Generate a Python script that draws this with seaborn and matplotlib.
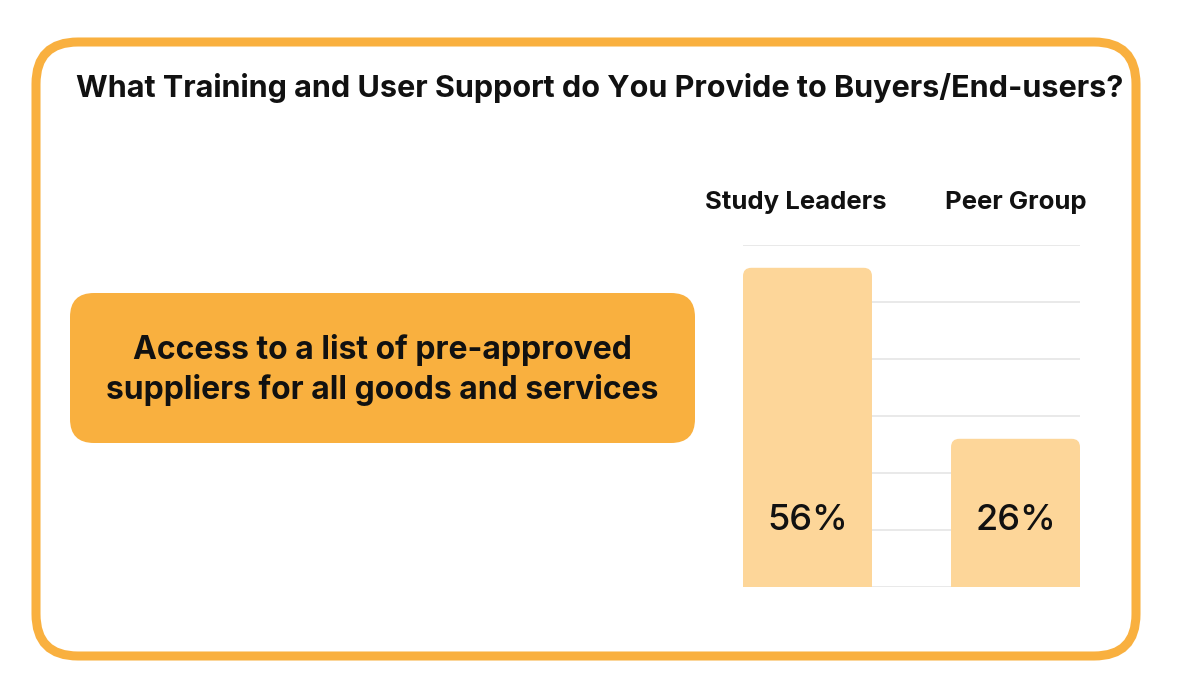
import matplotlib
matplotlib.use("Agg")
import matplotlib.pyplot as plt
from matplotlib.patches import FancyBboxPatch
import seaborn as sns
import pandas as pd

title = "What Training and User Support do You Provide to Buyers/End-users?"
item = "Access to a list of pre-approved\nsuppliers for all goods and services"
groups = ["Study Leaders", "Peer Group"]
values = [56, 26]
y_ticks = [0, 10, 20, 30, 40, 50, 60]

ORANGE = "#F9B03F"
BAR = "#FDD699"
GRID = "#E3E3E3"

sns.set_theme(style="white")
plt.rcParams["font.family"] = ["Inter", "DejaVu Sans"]

fig = plt.figure(figsize=(12, 7), dpi=100)

# background overlay in pixel coordinates
bg = fig.add_axes([0, 0, 1, 1], zorder=0)
bg.set_xlim(0, 1200)
bg.set_ylim(700, 0)
bg.axis("off")
bg.add_patch(FancyBboxPatch((36, 42), 1100, 614, boxstyle="round,pad=0,rounding_size=42",
                            fc="white", ec=ORANGE, lw=6.5))
bg.add_patch(FancyBboxPatch((70, 293), 625, 150, boxstyle="round,pad=0,rounding_size=24",
                            fc=ORANGE, ec="none"))
bg.text(600, 88, title, ha="center", va="center", fontsize=22, fontweight="bold", color="#111111")
bg.text(382, 370, item, ha="center", va="center", fontsize=23, fontweight="bold",
        color="#111111", linespacing=1.28)

# bar chart
df = pd.DataFrame({"group": groups, "value": values})
ax = fig.add_axes([743 / 1200, 1 - 587 / 700, 337 / 1200, 342 / 700], zorder=1)
ax.patch.set_alpha(0)
sns.barplot(data=df, x="group", y="value", color=BAR, width=0.62, saturation=1, ax=ax)
ax.set_ylim(0, 60)
ax.set_xlim(-0.31, 1.31)
for t in y_ticks:
    ax.axhline(t, color=GRID, lw=1.1, zorder=0)

# round the top corners of bars
for p in list(ax.patches):
    x0, w, h = p.get_x(), p.get_width(), p.get_height()
    p.set_visible(False)
    r = FancyBboxPatch((x0, 0), w, h, boxstyle="round,pad=0,rounding_size=0.04",
                       mutation_aspect=60 / 342 * 208, fc=BAR, ec="none", zorder=2)
    ax.add_patch(r)
    ax.add_patch(plt.Rectangle((x0, 0), w, h * 0.5, fc=BAR, ec="none", zorder=2))

label_dx = [-0.055, 0.0]
for i, (g, v) in enumerate(zip(groups, values)):
    ax.text(i, 11.6, f"{v}%", ha="center", va="center", fontsize=26, fontweight="medium",
            color="#111111", zorder=3)
    ax.text(i + label_dx[i], 67.4, g, ha="center", va="center", fontsize=18.5, fontweight="bold",
            color="#111111", clip_on=False)

ax.set_xlabel("")
ax.set_ylabel("")
ax.set_xticks([])
ax.set_yticks([])
for s in ax.spines.values():
    s.set_visible(False)

fig.savefig("out.png", dpi=100, facecolor="white")
